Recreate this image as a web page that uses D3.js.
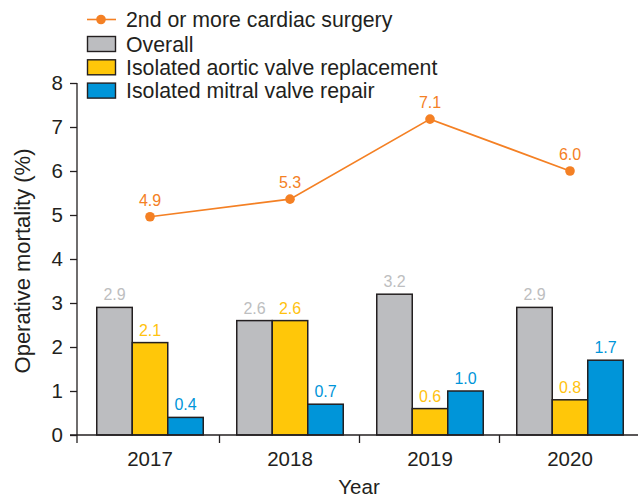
<!DOCTYPE html>
<html>
<head>
<meta charset="utf-8">
<script src="https://cdn.jsdelivr.net/npm/d3@7"></script>
<style>
  body { margin: 0; background: #fff; }
  svg text { font-family: "Liberation Sans", Arial, Helvetica, sans-serif; }
</style>
</head>
<body>
<div id="chart"></div>
<script>
// data
var years = ["2017", "2018", "2019", "2020"];
var seriesNames = ["Overall", "Isolated aortic valve replacement", "Isolated mitral valve repair"];
var overall = [2.9, 2.6, 3.2, 2.9];
var aortic = [2.1, 2.6, 0.6, 0.8];
var mitral = [0.4, 0.7, 1.0, 1.7];
// dot positions as drawn (slightly above the printed labels)
var redo = [4.96, 5.36, 7.18, 6.0];
var redoLabels = ["4.9", "5.3", "7.1", "6.0"];
var lineName = "2nd or more cardiac surgery";
var yTicks = [0, 1, 2, 3, 4, 5, 6, 7, 8];

var barColors = ["#bcbdc0", "#ffc709", "#0095d9"];
var labelColors = ["#bdbec0", "#ffc20e", "#0095d9"];
var lineColor = "#f48024";
var ink = "#231f20";

var width = 638, height = 497;
var svg = d3.select("#chart").append("svg")
  .attr("width", width)
  .attr("height", height);

var x = d3.scaleBand()
  .domain(years)
  .range([80, 640]);

var y = d3.scaleLinear()
  .domain([0, 8])
  .range([435, 83]);

var barW = 35.5;
var series = [overall, aortic, mitral];

// bars
series.forEach(function(vals, s) {
  var g = svg.append("g");
  g.selectAll("rect")
    .data(vals)
    .enter().append("rect")
    .attr("x", function(d, i) { return x(years[i]) + x.bandwidth() / 2 - 1.5 * barW + s * barW; })
    .attr("y", function(d) { return y(d); })
    .attr("width", barW)
    .attr("height", function(d) { return y(0) - y(d); })
    .attr("fill", barColors[s])
    .attr("stroke", ink)
    .attr("stroke-width", 1.5);

  g.selectAll("text")
    .data(vals)
    .enter().append("text")
    .attr("x", function(d, i) { return x(years[i]) + x.bandwidth() / 2 - barW + s * barW; })
    .attr("y", function(d) { return y(d) - 7; })
    .attr("text-anchor", "middle")
    .attr("font-size", 16)
    .attr("fill", labelColors[s])
    .text(function(d) { return d.toFixed(1); });
});

// axes
var yAxis = svg.append("g")
  .attr("transform", "translate(77,0)")
  .call(d3.axisLeft(y).tickValues(yTicks).tickSize(7).tickPadding(7).tickSizeOuter(0));
yAxis.select(".domain").remove();
yAxis.selectAll("line").attr("stroke", ink).attr("stroke-width", 1.3);
yAxis.selectAll("text").attr("font-size", 20.5).attr("fill", ink);

svg.append("line")
  .attr("x1", 77).attr("x2", 77)
  .attr("y1", y(8)).attr("y2", y(0) + 8)
  .attr("stroke", ink).attr("stroke-width", 1.3);

svg.append("line")
  .attr("x1", 70).attr("x2", 638)
  .attr("y1", y(0)).attr("y2", y(0))
  .attr("stroke", ink).attr("stroke-width", 1.3);

// x ticks between groups
svg.selectAll(".xtick")
  .data(years.slice(1))
  .enter().append("line")
  .attr("x1", function(d) { return x(d) - 0.5; })
  .attr("x2", function(d) { return x(d) - 0.5; })
  .attr("y1", y(0)).attr("y2", y(0) + 8)
  .attr("stroke", ink).attr("stroke-width", 1.3);

svg.selectAll(".xlab")
  .data(years)
  .enter().append("text")
  .attr("x", function(d) { return x(d) + x.bandwidth() / 2; })
  .attr("y", 466)
  .attr("text-anchor", "middle")
  .attr("font-size", 20.5)
  .attr("fill", ink)
  .text(function(d) { return d; });

svg.append("text")
  .attr("x", 359)
  .attr("y", 494)
  .attr("text-anchor", "middle")
  .attr("font-size", 20.5)
  .attr("fill", ink)
  .text("Year");

svg.append("text")
  .attr("transform", "translate(30," + 261 + ") rotate(-90)")
  .attr("text-anchor", "middle")
  .attr("font-size", 22)
  .attr("fill", ink)
  .text("Operative mortality (%)");

// line series
var cx = function(d, i) { return x(years[i]) + x.bandwidth() / 2; };
svg.append("path")
  .datum(redo)
  .attr("d", d3.line().x(cx).y(function(d) { return y(d); }))
  .attr("fill", "none")
  .attr("stroke", lineColor)
  .attr("stroke-width", 1.7);

svg.selectAll(".dot")
  .data(redo)
  .enter().append("circle")
  .attr("cx", cx)
  .attr("cy", function(d) { return y(d); })
  .attr("r", 4.8)
  .attr("fill", lineColor);

svg.selectAll(".dotlab")
  .data(redo)
  .enter().append("text")
  .attr("x", cx)
  .attr("y", function(d) { return y(d) - 11; })
  .attr("text-anchor", "middle")
  .attr("font-size", 16)
  .attr("fill", lineColor)
  .text(function(d, i) { return redoLabels[i]; });

// legend
var legend = svg.append("g");
legend.append("line")
  .attr("x1", 87).attr("x2", 116)
  .attr("y1", 19.5).attr("y2", 19.5)
  .attr("stroke", lineColor).attr("stroke-width", 1.6);
legend.append("circle")
  .attr("cx", 101).attr("cy", 19.5).attr("r", 4.8)
  .attr("fill", lineColor);
legend.append("text")
  .attr("x", 126).attr("y", 27)
  .attr("font-size", 21.3).attr("fill", ink)
  .text(lineName);

seriesNames.forEach(function(name, s) {
  var cy = 44 + s * 23.3;
  legend.append("rect")
    .attr("x", 87.5).attr("y", cy - 7.5)
    .attr("width", 28).attr("height", 15)
    .attr("fill", barColors[s])
    .attr("stroke", ink).attr("stroke-width", 1.4);
  legend.append("text")
    .attr("x", 126).attr("y", cy + 7.5)
    .attr("font-size", 21.3).attr("fill", ink)
    .text(name);
});
</script>
</body>
</html>
